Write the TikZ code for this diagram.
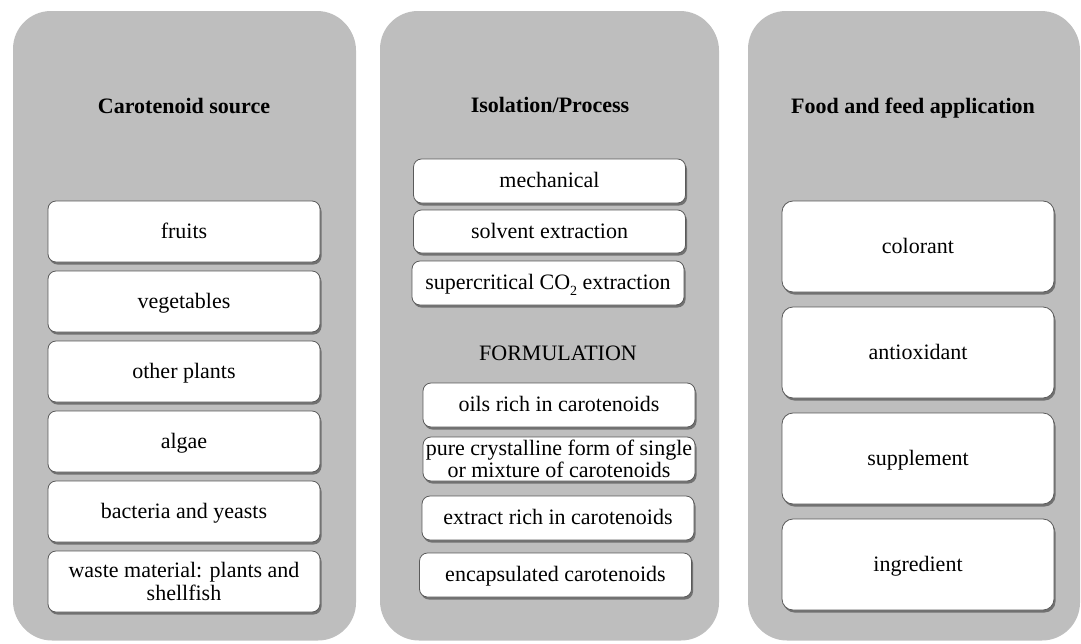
\documentclass[tikz,border=0pt]{standalone}
\usepackage{fontspec}
\setmainfont{Liberation Serif}
\usetikzlibrary{shadows}
\definecolor{panelgray}{RGB}{190,190,190}
\definecolor{boxline}{RGB}{90,90,90}
\newcommand{\subtwo}{\raisebox{-0.28em}{\fontsize{14}{14}\selectfont 2}}
\tikzset{
  panel/.style={fill=panelgray, draw=none, rounded corners=38pt,
    drop shadow={shadow xshift=1pt, shadow yshift=-1.5pt, opacity=0.25, fill=black}},
  item/.style={fill=white, draw=boxline, line width=0.8pt, rounded corners=8pt,
    minimum width=272pt, inner sep=2pt, align=center,
    font=\fontsize{22}{23}\selectfont,
    drop shadow={shadow xshift=1.5pt, shadow yshift=-2.5pt, opacity=0.55, fill=black!80}},
  oneline/.style={text height=16pt, text depth=3pt},
  smallitem/.style={item, minimum height=44pt},
  srcitem/.style={item, minimum height=61pt},
  appitem/.style={item, oneline, minimum height=91pt, rounded corners=11pt},
  title/.style={font=\fontsize{22}{24}\selectfont\bfseries, inner sep=0pt, anchor=base},
  plain/.style={font=\fontsize{22}{24}\selectfont, inner sep=0pt, anchor=base}
}
\begin{document}
\begin{tikzpicture}[x=1pt, y=-1pt]
\useasboundingbox[fill=white] (0,0) rectangle (1081,643);
% panels
\path[panel] (13,11) rectangle (355,639);
\path[panel] (380,11) rectangle (718,639);
\path[panel] (748,11) rectangle (1079,639);
% titles
\node[title] (t1) at (184,113) {Carotenoid source};
\node[title] (t2) at (550,112) {Isolation/Process};
\node[title] (t3) at (913,113) {Food and feed application};
% column 1
\node[srcitem, oneline] (s1) at (184,231.5) {fruits};
\node[srcitem, oneline] (s2) at (184,301.5) {vegetables};
\node[srcitem, oneline] (s3) at (184,371.5) {other plants};
\node[srcitem, oneline] (s4) at (184,441.5) {algae};
\node[srcitem, oneline] (s5) at (184,511.5) {bacteria and yeasts};
\node[srcitem] (s6) at (184,581.5) {waste material: plants and\\shellfish};
% column 2
\node[smallitem, oneline] (p1) at (549.5,181) {mechanical};
\node[smallitem, oneline, minimum height=43pt] (p2) at (549.5,231.5) {solvent extraction};
\node[smallitem, oneline] (p3) at (548,283) {supercritical CO\subtwo{} extraction};
\node[plain] (f0) at (558,360) {FORMULATION};
\node[smallitem, oneline] (f1) at (559,405) {oils rich in carotenoids};
\node[smallitem, font=\fontsize{22}{22}\selectfont] (f2) at (559,459) {pure crystalline form of single\\or mixture of carotenoids};
\node[smallitem, oneline] (f3) at (558,518) {extract rich in carotenoids};
\node[smallitem, oneline] (f4) at (555.5,575) {encapsulated carotenoids};
% column 3
\node[appitem] (a1) at (918,246.5) {colorant};
\node[appitem] (a2) at (918,352.5) {antioxidant};
\node[appitem] (a3) at (918,458.5) {supplement};
\node[appitem] (a4) at (918,564.5) {ingredient};
\end{tikzpicture}
\end{document}
